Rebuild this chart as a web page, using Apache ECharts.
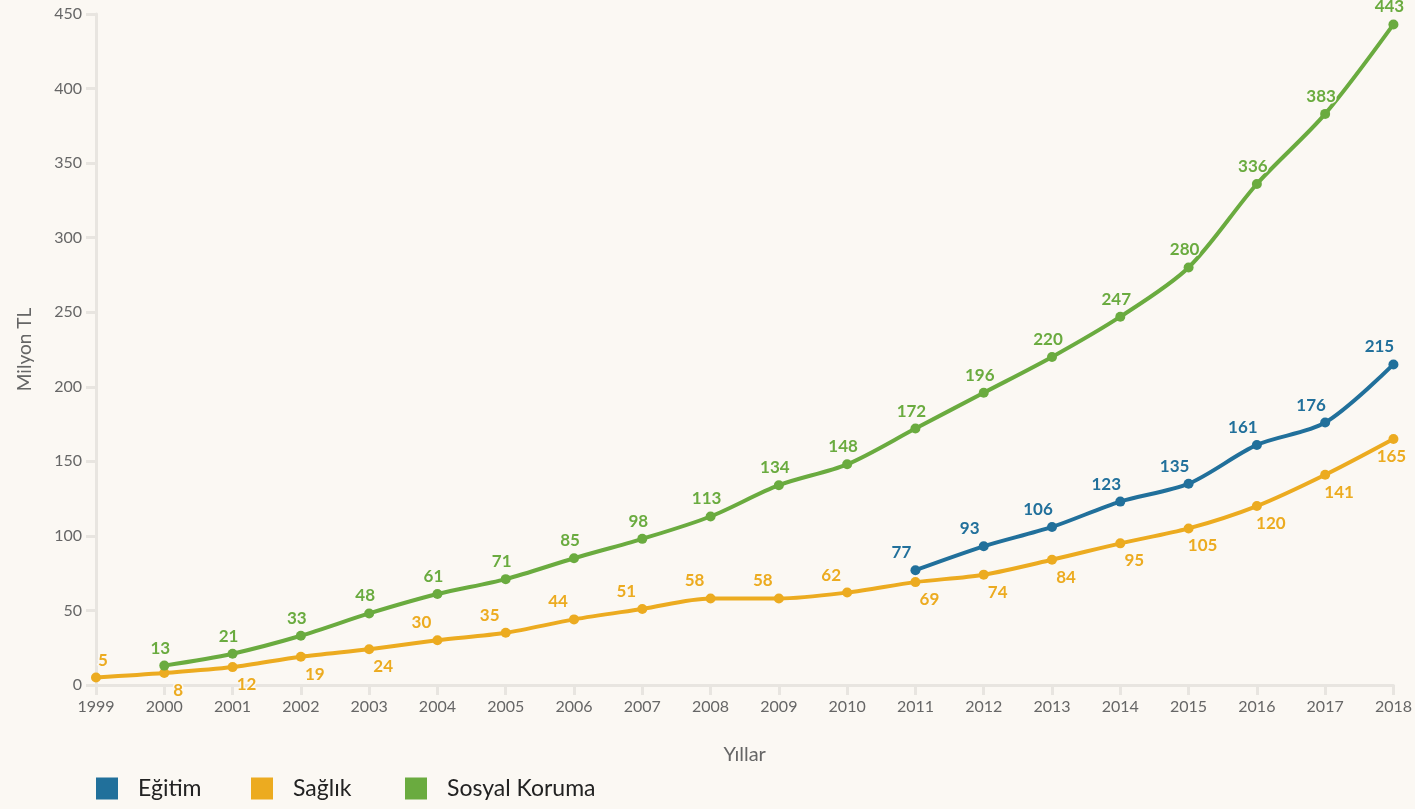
<!DOCTYPE html>
<html><head><meta charset="utf-8">
<script src="https://cdn.jsdelivr.net/npm/echarts@6/dist/echarts.min.js"></script>
<style>html,body{margin:0;padding:0;background:#fbf8f3;}#c{width:1415px;height:809px;}</style>
</head><body><div id="c"></div>
<script>
const years = ['1999','2000','2001','2002','2003','2004','2005','2006','2007','2008','2009','2010','2011','2012','2013','2014','2015','2016','2017','2018'];
const egitim = [null,null,null,null,null,null,null,null,null,null,null,null,77,93,106,123,135,161,176,215];
const saglik = [5,8,12,19,24,30,35,44,51,58,58,62,69,74,84,95,105,120,141,165];
const sosyal = [null,13,21,33,48,61,71,85,98,113,134,148,172,196,220,247,280,336,383,443];
const yTicks = [0,50,100,150,200,250,300,350,400,450];
const seriesNames = ['Eğitim','Sağlık','Sosyal Koruma'];
const saglikLabelSide = ['t','b','b','b','b','t','t','t','t','t','t','t','b','b','b','b','b','b','b','b'];

const BG = '#fbf8f3';
const C_EG = '#21709b', C_SA = '#ecab20', C_SO = '#6aab3f';
const FONT = 'Lato, "Noto Sans", sans-serif';
const legendLefts = [91, 246, 400];

function lbl(color, pos, off){
  return {show:true, position:pos, offset:off, color:color, fontWeight:'bold', fontSize:17,
    fontFamily:FONT, textBorderColor:BG, textBorderWidth:3, distance:4};
}
const saglikData = saglik.map((v,i)=>{
  let off;
  if (saglikLabelSide[i]==='t') off = [i===0?7:-16,0];
  else off = [i===saglik.length-1?-2:14,0];
  return {value:v, label: lbl(C_SA, saglikLabelSide[i]==='t'?'top':'bottom', off)};
});

const legends = seriesNames.map((n,i)=>({
  left:legendLefts[i], bottom:4, itemWidth:22, itemHeight:22, icon:'rect',
  textStyle:{fontSize:23,color:'#222',fontFamily:FONT, padding:[0,0,0,15]},
  data:[n]
}));

const chart = echarts.init(document.getElementById('c'), null, {renderer:'canvas'});
chart.setOption({
  backgroundColor: BG,
  animation:false,
  textStyle:{fontFamily:FONT},
  grid:{left:96,right:19,top:14,bottom:124,containLabel:false},
  legend: legends,
  xAxis:{
    type:'category', data:years, boundaryGap:false,
    name:'Yıllar', nameLocation:'middle', nameGap:60,
    nameTextStyle:{fontSize:20,color:'#666',fontFamily:FONT},
    axisLine:{lineStyle:{color:'#e8e5e0',width:3}},
    axisTick:{show:true,length:10,lineStyle:{color:'#e8e5e0',width:3}},
    axisLabel:{fontSize:16,color:'#666',margin:14,fontFamily:FONT},
    splitLine:{show:false}
  },
  yAxis:{
    type:'value', min:0, max:450, interval:50,
    name:'Milyon TL', nameLocation:'middle', nameGap:62,
    nameTextStyle:{fontSize:19,color:'#666',fontFamily:FONT},
    axisLine:{show:true,lineStyle:{color:'#e8e5e0',width:3}},
    axisTick:{show:true,length:10,lineStyle:{color:'#e8e5e0',width:3}},
    axisLabel:{fontSize:16,color:'#666',margin:14,fontFamily:FONT, formatter:v=>yTicks.includes(v)?String(v):''},
    splitLine:{show:false}
  },
  series:[
    {name:seriesNames[0], type:'line', data:egitim, smooth:0.3, color:C_EG,
     lineStyle:{width:4}, symbol:'circle', symbolSize:10, label:lbl(C_EG,'top',[-14,0]), z:3},
    {name:seriesNames[1], type:'line', data:saglikData, smooth:0.3, color:C_SA,
     lineStyle:{width:4}, symbol:'circle', symbolSize:10, z:2},
    {name:seriesNames[2], type:'line', data:sosyal, smooth:0.3, color:C_SO,
     lineStyle:{width:4}, symbol:'circle', symbolSize:10, label:lbl(C_SO,'top',[-4,0]), z:4}
  ]
});
</script></body></html>
